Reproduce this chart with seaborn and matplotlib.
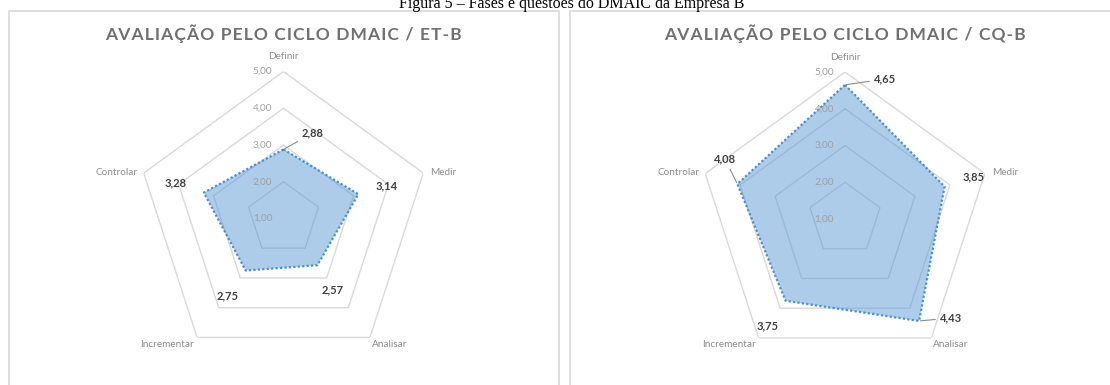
import numpy as np
import matplotlib
matplotlib.use("Agg")
import matplotlib.pyplot as plt
from matplotlib.patches import Rectangle
import seaborn as sns

# ---------------- data ----------------
categories = ["Definir", "Medir", "Analisar", "Incrementar", "Controlar"]
et_b = [2.88, 3.14, 2.57, 2.75, 3.28]
cq_b = [4.65, 3.85, 4.43, 3.75, 4.08]
ring_values = [1, 2, 3, 4, 5]
ring_labels = ["1,00", "2,00", "3,00", "4,00", "5,00"]
titles = ["AVALIAÇÃO PELO CICLO DMAIC / ET-B", "AVALIAÇÃO PELO CICLO DMAIC / CQ-B"]
caption = "Figura 5 – Fases e questões do DMAIC da Empresa B"

# ---------------- layout (pixels) ----------------
W, H = 1110, 385
DPI = 100
# value label offsets (px, image y down), and whether a leader line is drawn
et_offsets = [(29.5, -16.4), (28.7, -8.2), (15.6, 24.8), (-17.7, 25.5), (-27.8, -9.3)]
et_leaders = [True, False, False, False, False]
cq_offsets = [(40, -5.8), (28.7, -9.8), (32, -3), (-17.6, 25.4), (-12.3, -24.9)]
cq_leaders = [True, False, True, False, True]
# category label offsets from outer vertex (px) and alignment
cat_offsets = [(0, -15), (7, -1), (2, 7), (-3, 7), (-6, -1)]
cat_ha = ["center", "left", "left", "right", "right"]

sns.set_theme(style="white")
plt.rcParams["font.family"] = ["Lato", "DejaVu Sans"]

fig = plt.figure(figsize=(W / DPI, H / DPI), dpi=DPI)
fig.patch.set_facecolor("white")

# caption (cut at top, as in the reference)
fig.text(572 / W, 1 - 8.5 / H, caption, ha="center", va="baseline",
         fontsize=11.5, family=["Liberation Serif", "DejaVu Serif"], color="black")

# panel frames
fig.patches.append(Rectangle((8.5 / W, -0.1), (559 - 8.5) / W, 1.1 - 11 / H,
                             transform=fig.transFigure, fill=False,
                             edgecolor="#D9D9D9", lw=1.2))
fig.patches.append(Rectangle((570 / W, -0.1), 0.6, 1.1 - 11 / H,
                             transform=fig.transFigure, fill=False,
                             edgecolor="#D9D9D9", lw=1.2))

R = 147  # px radius
centers = [(283.5, 218.5), (845, 219)]
series = [et_b, cq_b]
offsets_all = [et_offsets, cq_offsets]
leaders_all = [et_leaders, cq_leaders]

n = len(categories)
theta = np.linspace(0, 2 * np.pi, n, endpoint=False)
theta_closed = np.append(theta, theta[0])

px2pt = 72 / DPI

for k in range(2):
    cx, cy = centers[k]
    rect = [(cx - R) / W, 1 - (cy + R) / H, 2 * R / W, 2 * R / H]
    ax = fig.add_axes(rect, projection="polar")
    ax.set_theta_offset(np.pi / 2)
    ax.set_theta_direction(-1)
    ax.set_ylim(ring_values[0], ring_values[-1])
    ax.grid(False)
    ax.spines["polar"].set_visible(False)
    ax.set_xticks([])
    ax.set_yticks([])
    ax.set_facecolor("none")

    # pentagon grid
    for rv in ring_values[1:]:
        ax.plot(theta_closed, [rv] * (n + 1), color="#D9D9D9", lw=1.0, zorder=1)

    vals = series[k]
    vals_closed = vals + [vals[0]]
    ax.fill(theta_closed, vals_closed, color="#5B9BD5", alpha=0.5, lw=0, zorder=2)
    sns.lineplot(x=theta_closed, y=vals_closed, sort=False, estimator=None, ax=ax,
                 color="#4A8FD4", lw=1.6, dashes=False, zorder=3)
    ax.lines[-1].set_linestyle((0, (1, 1)))

    # tick labels along the top axis
    for rv, lab in zip(ring_values, ring_labels):
        ax.annotate(lab, xy=(0, rv), xytext=(-11 * px2pt, 0), textcoords="offset points",
                    ha="right", va="center", fontsize=7.2, color="#A0A0A0", zorder=4)

    # category labels
    for i, cat in enumerate(categories):
        dx, dy = cat_offsets[i]
        ax.annotate(cat, xy=(theta[i], ring_values[-1]), xytext=(dx * px2pt, -dy * px2pt),
                    textcoords="offset points", ha=cat_ha[i], va="center",
                    fontsize=7.2, color="#8C8C8C", annotation_clip=False)

    # value labels
    for i, v in enumerate(vals):
        dx, dy = offsets_all[k][i]
        txt = f"{v:.2f}".replace(".", ",")
        kw = {}
        if leaders_all[k][i]:
            kw["arrowprops"] = dict(arrowstyle="-", color="#8C8C8C", lw=0.8,
                                    shrinkA=1, shrinkB=1)
        ax.annotate(txt, xy=(theta[i], v), xytext=(dx * px2pt, -dy * px2pt),
                    textcoords="offset points", ha="center", va="center",
                    fontsize=8, fontweight="bold", color="#404040",
                    annotation_clip=False, zorder=5, **kw)

    # title (letter-spaced)
    spaced = "\u200a".join(list(titles[k]))
    fig.text(cx / W, 1 - 33.5 / H, spaced, ha="center", va="center",
             fontsize=12.5, fontweight="bold", color="#707070",
             family=["Lato", "DejaVu Sans"])

fig.savefig("out.png", dpi=DPI, facecolor="white")
